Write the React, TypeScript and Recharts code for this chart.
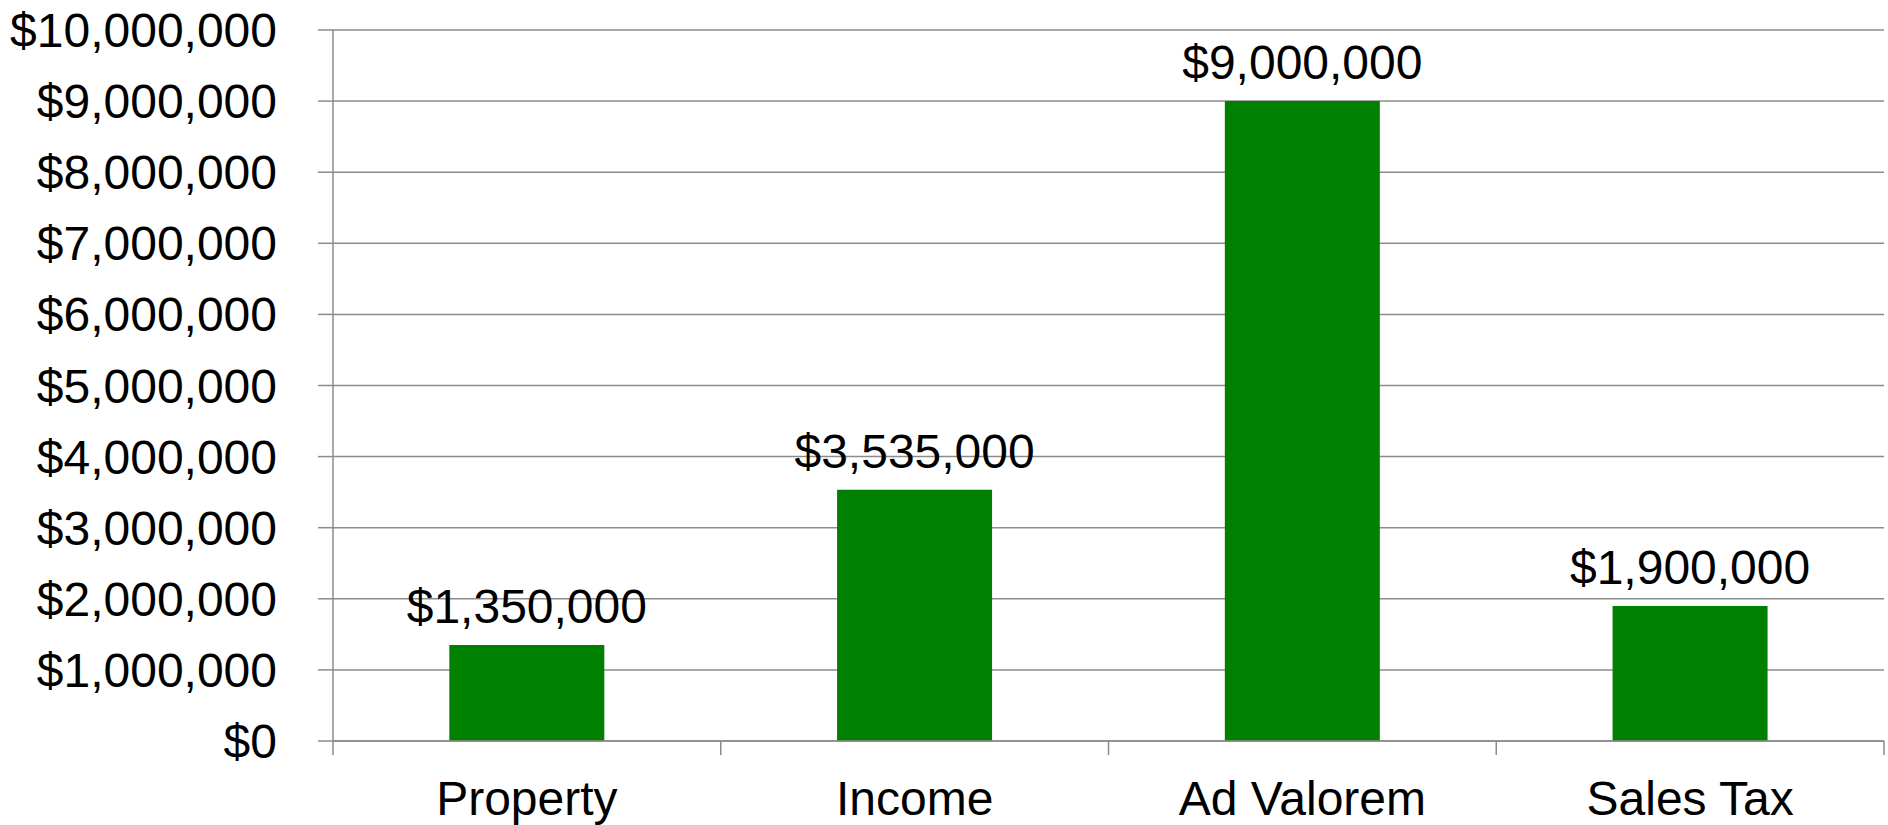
import React from 'react';
import { BarChart, Bar, XAxis, YAxis, CartesianGrid, LabelList } from 'recharts';

const categories = ['Property', 'Income', 'Ad Valorem', 'Sales Tax'];
const revenueValues = [1350000, 3535000, 9000000, 1900000];
const yTicks = [0, 1000000, 2000000, 3000000, 4000000, 5000000, 6000000, 7000000, 8000000, 9000000, 10000000];

const data = categories.map((name, i) => ({ name, value: revenueValues[i] }));

const W = 1888;
const H = 825;
const MARGIN = { top: 30, right: 4, bottom: 0, left: 0 };
const YAXIS_W = 333;
const XAXIS_H = 84;
const AXIS_Y = H - MARGIN.bottom - XAXIS_H;
const BAND = (W - MARGIN.left - MARGIN.right - YAXIS_W) / categories.length;
const GRID = '#8c8c8c';
const FONT = '"Liberation Sans", Arial, sans-serif';

const fmt = (v: number) => '$' + Number(v).toLocaleString('en-US');

function XTick(props: any) {
  const { x, payload, index } = props;
  const half = BAND / 2;
  return (
    <g>
      <line x1={x - half} y1={AXIS_Y} x2={x - half} y2={AXIS_Y + 14} stroke={GRID} strokeWidth={1.5} />
      {index === categories.length - 1 && (
        <line x1={x + half} y1={AXIS_Y} x2={x + half} y2={AXIS_Y + 14} stroke={GRID} strokeWidth={1.5} />
      )}
      <text x={x} y={AXIS_Y + 74} textAnchor="middle" fill="#000" fontSize={48} fontFamily={FONT}>
        {payload.value}
      </text>
    </g>
  );
}

export default function App() {
  return (
    <div style={{ position: 'absolute', left: 0, top: 0, width: W, height: H, background: '#fff' }}>
      <BarChart width={W} height={H} data={data} margin={MARGIN} barCategoryGap="30%">
        <CartesianGrid vertical={false} stroke={GRID} strokeWidth={1.5} />
        <XAxis
          dataKey="name"
          height={XAXIS_H}
          axisLine={{ stroke: GRID, strokeWidth: 1.5 }}
          tickLine={false}
          tick={<XTick />}
          interval={0}
        />
        <YAxis
          width={YAXIS_W}
          domain={[0, 10000000]}
          ticks={yTicks}
          interval={0}
          tickFormatter={fmt}
          axisLine={{ stroke: GRID, strokeWidth: 1.5 }}
          tickLine={{ stroke: GRID, strokeWidth: 1.5 }}
          tickSize={15}
          tickMargin={41}
          tick={{ fill: '#000', fontSize: 48, fontFamily: FONT }}
        />
        <Bar dataKey="value" fill="#008000" isAnimationActive={false}>
          <LabelList
            dataKey="value"
            position="top"
            offset={22}
            formatter={(v: any) => fmt(v)}
            fill="#000"
            fontSize={48}
            fontFamily={FONT}
          />
        </Bar>
      </BarChart>
    </div>
  );
}
